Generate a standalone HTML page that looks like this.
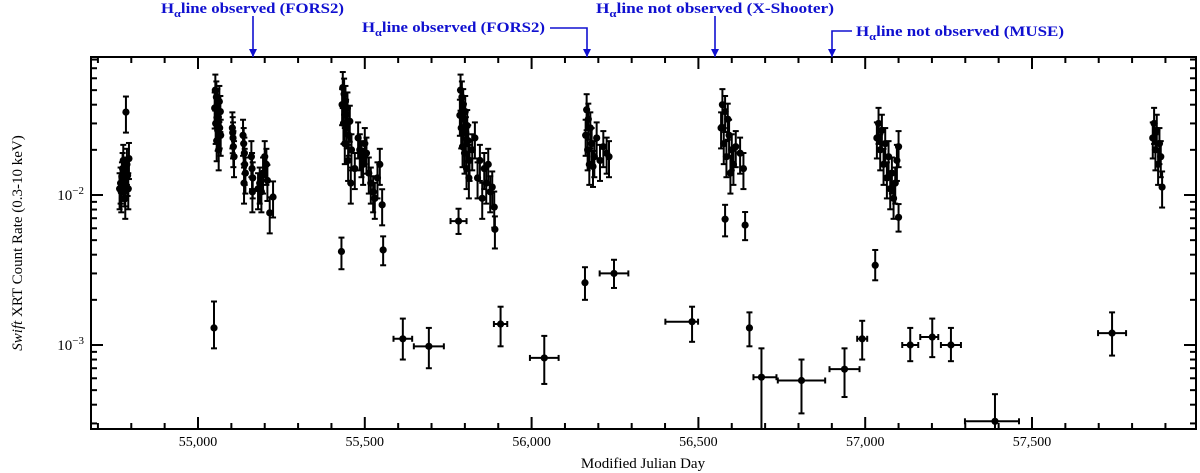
<!DOCTYPE html>
<html><head><meta charset="utf-8"><style>
html,body{margin:0;padding:0;background:#fff;}
svg{display:block;font-family:"Liberation Serif",serif;}
</style></head><body>
<svg id="chart" width="1200" height="473" viewBox="0 0 1200 473" xmlns="http://www.w3.org/2000/svg">
<g id="axes"></g>
<g id="marks"></g>
<g id="annot"></g>
<text x="643" y="468" font-size="15" text-anchor="middle">Modified Julian Day</text>
<text transform="translate(22,243) rotate(-90)" font-size="15" text-anchor="middle"><tspan font-style="italic">Swift</tspan> XRT Count Rate (0.3-10 keV)</text>
</svg>
<script>
// ---- dense cluster data ----
const clusterDays = [
54765,54768,54770,54772,54774,54776,54778,54780,54782,54785,54787,54789,54791,54793,54784,
55050,55052,55053,55055,55056,55058,55059,55061,55062,55064,55065,55067,55068,
55103,55105,55106,55108,55104,
55135,55137,55139,55140,55142,55138,
55160,55162,55164,55163,
55180,55185,55190,55195,55200,55205,55208,55215,55225,
55432,55434,55436,55438,55440,55442,55444,55446,55448,55450,55452,55455,55458,55460,55470,
55480,55485,55490,55495,55500,55505,55512,55518,55525,55530,55538,55545,55552,
55785,55787,55789,55791,55793,55795,55797,55799,55801,55803,55805,55807,55810,55812,55814,
55822,55830,55838,55845,55852,55858,55864,55870,55876,55882,55888,
56162,56165,56168,56170,56173,56176,56180,56184,56188,56195,56205,56215,56225,56232,
56568,56572,56576,56580,56584,56588,56592,56596,56600,56605,56612,56625,56635,
57035,57040,57045,57050,57055,57060,57065,57070,57075,57080,57085,57090,57095,57100,
57862,57866,57870,57874,57878,57882,57886,57890
];
const clusterRates = [
0.011,0.012,0.0105,0.013,0.015,0.017,0.0125,0.0115,0.0095,0.014,0.016,0.0135,0.011,0.0175,0.0357,
0.038,0.050,0.030,0.045,0.023,0.040,0.027,0.033,0.020,0.042,0.028,0.036,0.025,
0.028,0.024,0.021,0.018,0.026,
0.025,0.022,0.019,0.016,0.014,0.012,
0.018,0.015,0.013,0.0105,
0.011,0.012,0.0105,0.014,0.018,0.016,0.0125,0.0076,0.0097,
0.040,0.052,0.030,0.047,0.022,0.042,0.034,0.028,0.038,0.017,0.025,0.031,0.012,0.020,0.015,
0.024,0.020,0.018,0.016,0.022,0.019,0.014,0.012,0.0105,0.0095,0.013,0.016,0.0086,
0.034,0.050,0.028,0.045,0.021,0.040,0.032,0.019,0.036,0.026,0.015,0.029,0.023,0.013,0.017,
0.020,0.024,0.013,0.017,0.0095,0.015,0.012,0.016,0.0105,0.0113,0.0083,
0.025,0.037,0.020,0.032,0.016,0.028,0.022,0.0155,0.018,0.024,0.017,0.021,0.019,0.018,
0.028,0.040,0.022,0.036,0.018,0.032,0.025,0.014,0.020,0.016,0.021,0.019,0.015,
0.024,0.030,0.020,0.027,0.016,0.022,0.013,0.018,0.011,0.014,0.0095,0.012,0.017,0.021,
0.024,0.030,0.020,0.027,0.016,0.022,0.018,0.0113
];
const clusterErrFrac = 0.27;
// ---- sparse point data ----
const sparseDays  = [55048,55430,55555,55614,55692,55781,55890,55907,56038,56160,56247,56481,56580,56640,56653,56689,56809,56938,56991,57030,57100,57135,57201,57257,57389,57740];
const sparseRates = [0.00130,0.0042,0.0043,0.00110,0.00098,0.0067,0.0059,0.00138,0.00082,0.0026,0.0030,0.00143,0.0069,0.0063,0.00130,0.00061,0.00058,0.00069,0.00110,0.0034,0.0071,0.00100,0.00113,0.00100,0.00031,0.00120];
const sparseLo    = [0.00095,0.0032,0.0034,0.00080,0.00070,0.0055,0.0044,0.00098,0.00055,0.0020,0.0024,0.00105,0.0053,0.0050,0.00098,0.00020,0.00035,0.00045,0.00080,0.0027,0.0057,0.00078,0.00083,0.00078,0.00015,0.00085];
const sparseHi    = [0.00195,0.0052,0.0053,0.00150,0.00130,0.0081,0.0072,0.00180,0.00115,0.0033,0.0037,0.00180,0.0086,0.0077,0.00165,0.00095,0.00080,0.00095,0.00145,0.0043,0.0087,0.00130,0.00150,0.00130,0.00047,0.00165];
const sparseXLo   = [0,0,0,28,45,24,0,20,43,0,43,80,0,0,0,24,71,45,15,0,0,24,36,30,90,42];
const sparseXHi   = [0,0,0,28,45,24,0,20,43,0,43,18,0,0,0,45,71,45,15,0,0,24,18,30,72,42];
// ---- axis ticks ----
const xTickValues = [55000,55500,56000,56500,57000,57500];
const xTickLabels = ["55,000","55,500","56,000","56,500","57,000","57,500"];
const yMajorValues = [0.001,0.01];
const yMajorExp = ["\u22123","\u22122"];

const L=91,R=1196,T=57,B=429;
const NS="http://www.w3.org/2000/svg";
function xS(d){return 198+(d-55000)*0.3336;}
function yS(v){return 195-150*(Math.log10(v)+2);}
function mk(tag,attrs,parent){const e=document.createElementNS(NS,tag);for(const k in attrs)e.setAttribute(k,attrs[k]);parent.appendChild(e);return e;}
const axes=document.getElementById('axes'),marks=document.getElementById('marks'),annot=document.getElementById('annot');

const fr=mk('rect',{x:L,y:T,width:R-L,height:B-T,fill:'none',stroke:'#000','stroke-width':2},axes);


for(let d=54700;d<=57900;d+=100){
  const x=xS(d); if(x<=L+1||x>=R-1) continue;
  const major=(d%500===0), len=major?12:6;
  const t1=mk('line',{x1:x,x2:x,y1:B,y2:B-len,stroke:'#000','stroke-width':2},axes);
  
  
  const t2=mk('line',{x1:x,x2:x,y1:T,y2:T+len,stroke:'#000','stroke-width':2},axes);
  
  
}
xTickValues.forEach((v,i)=>{
  const t=mk('text',{x:xS(v),y:B+17,'font-size':14,'text-anchor':'middle'},axes);
  t.textContent=xTickLabels[i];
  
  
});
[0.0001,0.001,0.01].forEach(base=>{
  for(let m=1;m<=9;m++){
    const v=base*m,y=yS(v); if(y<T+1||y>B-1) continue;
    const len=(m===1)?12:6;
    const a=mk('line',{x1:L,x2:L+len,y1:y,y2:y,stroke:'#000','stroke-width':2},axes);
    
    
    const b=mk('line',{x1:R,x2:R-len,y1:y,y2:y,stroke:'#000','stroke-width':2},axes);
    
    
  }
});
yMajorValues.forEach((v,i)=>{
  const t=mk('text',{x:84,y:yS(v)+5,'font-size':15,'text-anchor':'end'},axes);
  
  
  t.appendChild(document.createTextNode('10'));
  const s=mk('tspan',{dy:-6,'font-size':11},t);
  s.textContent=yMajorExp[i];
});
function clipY(y){return Math.max(T,Math.min(B,y));}
function drawPoint(d,v,lo,hi,xl,xh){
  const g=mk('g',{},marks);
  
  
  const x=xS(d),y=yS(v),y1=clipY(yS(hi)),y2=clipY(yS(lo));
  mk('line',{x1:x,x2:x,y1:y1,y2:y2,stroke:'#000','stroke-width':2},g);
  if(yS(hi)>=T) mk('line',{x1:x-3,x2:x+3,y1:y1,y2:y1,stroke:'#000','stroke-width':2},g);
  if(yS(lo)<=B) mk('line',{x1:x-3,x2:x+3,y1:y2,y2:y2,stroke:'#000','stroke-width':2},g);
  if(xl>0||xh>0){
    const xa=xS(d-xl),xb=xS(d+xh);
    mk('line',{x1:xa,x2:xb,y1:y,y2:y,stroke:'#000','stroke-width':2},g);
    mk('line',{x1:xa,x2:xa,y1:y-3,y2:y+3,stroke:'#000','stroke-width':2},g);
    mk('line',{x1:xb,x2:xb,y1:y-3,y2:y+3,stroke:'#000','stroke-width':2},g);
  }
  mk('circle',{cx:x,cy:y,r:3.6,fill:'#000'},g);
}
clusterDays.forEach((d,i)=>{const v=clusterRates[i];drawPoint(d,v,v*(1-clusterErrFrac),v*(1+clusterErrFrac),3,3);});
sparseDays.forEach((d,i)=>drawPoint(d,sparseRates[i],sparseLo[i],sparseHi[i],sparseXLo[i],sparseXHi[i]));

const blue='#1010d0';
function label(x,y,post,w,name){
  const t=mk('text',{x:x,y:y,'font-size':15,'font-weight':'bold',fill:blue,textLength:w,lengthAdjust:'spacingAndGlyphs'},annot);
  
  
  t.appendChild(document.createTextNode('H'));
  const s=mk('tspan',{dy:4,'font-size':11},t); s.textContent='\u03b1';
  const s2=mk('tspan',{dy:-4},t); s2.textContent=post;
}
function arrow(pts,name){
  const p=mk('polyline',{points:pts.map(a=>a.join(',')).join(' '),fill:'none',stroke:blue,'stroke-width':1.6},annot);
  
  
  const [x,y]=pts[pts.length-1];
  const h=mk('polygon',{points:`${x-4},${y-8} ${x+4},${y-8} ${x},${y}`,fill:blue},annot);
  
  
}
label(161,13,'line observed (FORS2)',183,'annotation-fors2-first');
arrow([[253,16],[253,57]],'arrow-fors2-first');
label(362,32,'line observed (FORS2)',183,'annotation-fors2-second');
arrow([[550,28],[587,28],[587,57]],'arrow-fors2-second');
label(596,13,'line not observed (X-Shooter)',238,'annotation-xshooter');
arrow([[715,16],[715,57]],'arrow-xshooter');
label(856,36,'line not observed (MUSE)',208,'annotation-muse');
arrow([[852,31],[832,31],[832,57]],'arrow-muse');
</script>
</body></html>
